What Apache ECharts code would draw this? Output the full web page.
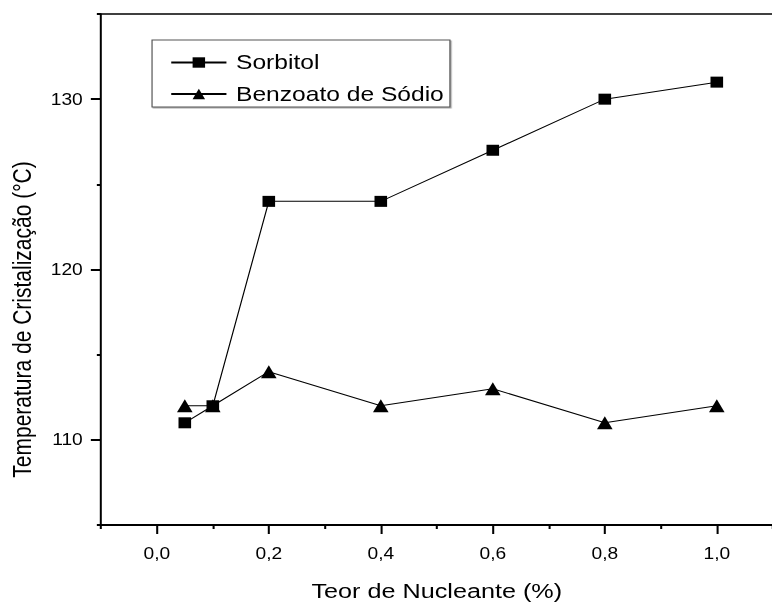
<!DOCTYPE html>
<html>
<head>
<meta charset="utf-8">
<script src="https://cdn.jsdelivr.net/npm/echarts@6/dist/echarts.min.js"></script>
<style>
  html, body { margin: 0; padding: 0; background: #fff; overflow: hidden; }
  /* the figure is drawn narrow and widened 1.2x, giving its broad lettering */
  #chart { width: 644px; height: 606px; transform: scaleX(1.2); transform-origin: 0 0; }
</style>
</head>
<body>
<div id="chart"></div>
<script>
// Nucleating agent content (%) and crystallization temperature (°C)
const teor = [0.05, 0.1, 0.2, 0.4, 0.6, 0.8, 1.0];
const sorbitol = [111, 112, 124, 124, 127, 130, 131];
const benzoato = [112, 112, 114, 112, 113, 111, 112];

const seriesNames = ['Sorbitol', 'Benzoato de Sódio'];

// axis ticks
const xMajorTicks = [0, 0.2, 0.4, 0.6, 0.8, 1.0];
const xMinorTicks = [-0.1, 0.1, 0.3, 0.5, 0.7, 0.9, 1.1];
const yMajorTicks = [110, 120, 130];
const yMinorTicks = [105, 115, 125, 135];

const FONT = '"Liberation Sans", Arial, sans-serif';
const chart = echarts.init(document.getElementById('chart'), null, { renderer: 'svg' });

const xCommon = { type: 'value', min: -0.1, max: 1.1, interval: 0.1, splitLine: { show: false } };
const yCommon = { type: 'value', min: 105, max: 135, interval: 5, splitLine: { show: false } };

chart.setOption({
  animation: false,
  backgroundColor: '#fff',
  grid: { left: 83.33, right: -6.8, top: 14, bottom: 77, containLabel: false },
  legend: {
    orient: 'vertical',
    left: 126.7,
    top: 40,
    data: seriesNames,
    itemWidth: 46,
    itemHeight: 13,
    itemGap: 10.5,
    padding: [12, 5, 2.5, 15],
    borderColor: '#555',
    borderWidth: 1,
    shadowColor: 'rgba(0,0,0,0.35)',
    shadowOffsetX: 1,
    shadowOffsetY: 1,
    backgroundColor: '#fff',
    textStyle: { fontFamily: FONT, fontSize: 20.5, color: '#000', lineHeight: 20, padding: [0, 0, 0, 3] }
  },
  xAxis: [
    Object.assign({}, xCommon, {
      position: 'bottom',
      name: 'Teor de Nucleante (%)',
      nameLocation: 'middle',
      nameGap: 55,
      nameTextStyle: { fontFamily: FONT, fontSize: 21, color: '#000' },
      axisLine: { show: true, onZero: false, lineStyle: { color: '#000', width: 2 } },
      axisTick: { show: true, inside: false, length: 9, customValues: xMajorTicks, lineStyle: { color: '#000', width: 1.7 } },
      axisLabel: {
        show: true, margin: 21, customValues: xMajorTicks,
        fontFamily: FONT, fontSize: 16, color: '#000',
        formatter: v => v.toFixed(1).replace('.', ',')
      }
    }),
    Object.assign({}, xCommon, {
      position: 'bottom',
      axisLine: { show: false, onZero: false },
      axisTick: { show: true, inside: false, length: 4, customValues: xMinorTicks, lineStyle: { color: '#000', width: 1.7 } },
      axisLabel: { show: false }
    }),
    Object.assign({}, xCommon, {
      position: 'top',
      axisLine: { show: true, onZero: false, lineStyle: { color: '#000', width: 1.5 } },
      axisTick: { show: false },
      axisLabel: { show: false }
    })
  ],
  yAxis: [
    Object.assign({}, yCommon, {
      position: 'left',
      name: 'Temperatura de Cristalização (°C)',
      nameLocation: 'middle',
      nameGap: 55,
      // right padding pushes the rotated title down along the axis
      nameTextStyle: { fontFamily: FONT, fontSize: 21, color: '#000', padding: [0, 100, 0, 0] },
      axisLine: { show: true, onZero: false, lineStyle: { color: '#000', width: 1.67 } },
      axisTick: { show: true, inside: false, length: 8.3, customValues: yMajorTicks, lineStyle: { color: '#000', width: 2 } },
      axisLabel: {
        show: true, margin: 15, customValues: yMajorTicks,
        fontFamily: FONT, fontSize: 16, color: '#000'
      }
    }),
    Object.assign({}, yCommon, {
      position: 'left',
      axisLine: { show: false, onZero: false },
      axisTick: { show: true, inside: false, length: 3.3, customValues: yMinorTicks, lineStyle: { color: '#000', width: 2 } },
      axisLabel: { show: false }
    })
  ],
  series: [
    {
      name: seriesNames[0],
      type: 'line',
      xAxisIndex: 0,
      yAxisIndex: 0,
      data: teor.map((x, i) => [x, sorbitol[i]]),
      symbol: 'rect',
      symbolSize: [10.5, 11],
      itemStyle: { color: '#000' },
      lineStyle: { color: '#000', width: 1 }
    },
    {
      name: seriesNames[1],
      type: 'line',
      xAxisIndex: 0,
      yAxisIndex: 0,
      data: teor.map((x, i) => [x, benzoato[i]]),
      symbol: 'triangle',
      symbolSize: [13, 13],
      itemStyle: { color: '#000' },
      lineStyle: { color: '#000', width: 1 }
    }
  ]
});
</script>
</body>
</html>
